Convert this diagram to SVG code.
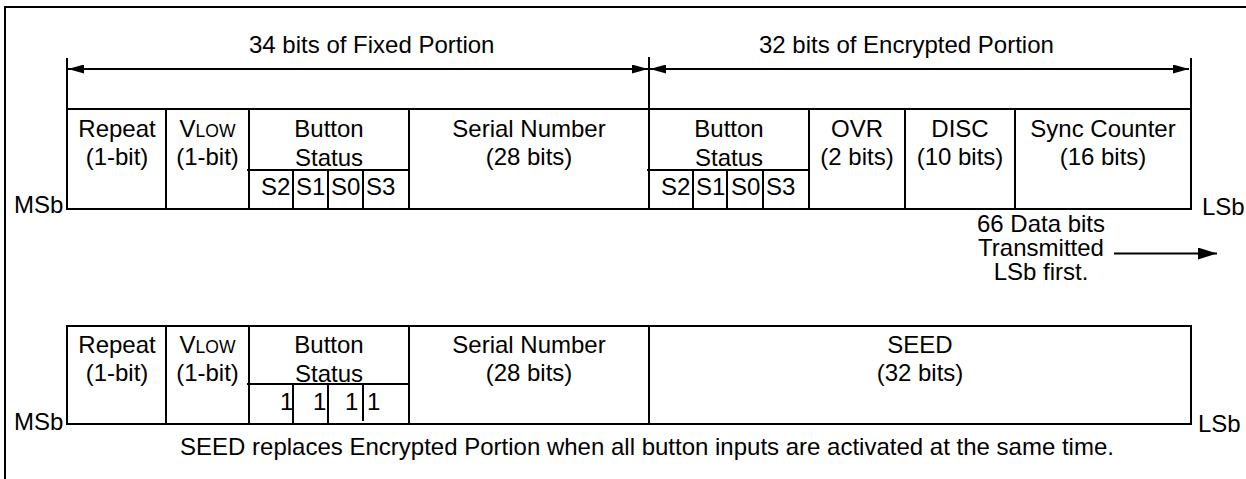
<svg xmlns="http://www.w3.org/2000/svg" width="1246" height="479" viewBox="0 0 1246 479">
<style>
text{font-family:"Liberation Sans",Arial,sans-serif;font-size:24px;fill:#000}
.c{text-anchor:middle}
.sc{font-size:17.5px}
.ln{stroke:#000;stroke-width:2;fill:none}
.box{stroke:#000;stroke-width:2;fill:#fff}
</style>
<defs>
<marker id="ah" markerUnits="userSpaceOnUse" markerWidth="16" markerHeight="9" refX="16" refY="4.5" orient="auto-start-reverse" viewBox="0 0 16 9">
<path d="M0,0 L16,4.5 L0,9 z" fill="#000"/>
</marker>
<marker id="ah2" markerUnits="userSpaceOnUse" markerWidth="19" markerHeight="12" refX="19" refY="6" orient="auto" viewBox="0 0 19 12">
<path d="M0,0 L19,6 L0,12 z" fill="#000"/>
</marker>
</defs>
<rect x="5" y="7" width="1260" height="490" fill="#fff" stroke="#000" stroke-width="2"/>

<g id="connectors">
<line class="ln" x1="67" y1="58" x2="67" y2="109"/>
<line class="ln" x1="649" y1="57" x2="649" y2="109"/>
<line class="ln" x1="1191" y1="58" x2="1191" y2="109"/>
<line class="ln" x1="68" y1="69" x2="648" y2="69" marker-start="url(#ah)" marker-end="url(#ah)"/>
<line class="ln" x1="650" y1="69" x2="1189" y2="69" marker-start="url(#ah)" marker-end="url(#ah)"/>
<line class="ln" x1="1114" y1="253.5" x2="1217" y2="253.5" marker-end="url(#ah2)"/>
</g>

<g id="labels">
<text x="249" y="53">34 bits of Fixed Portion</text>
<text x="759" y="53">32 bits of Encrypted Portion</text>
<text x="14" y="213">MSb</text>
<text x="1202" y="215">LSb</text>
<text class="c" x="1041" y="232">66 Data bits</text>
<text class="c" x="1041" y="256">Transmitted</text>
<text class="c" x="1041" y="280">LSb first.</text>
<text x="14" y="430">MSb</text>
<text x="1198" y="432">LSb</text>
<text class="c" x="647" y="455">SEED replaces Encrypted Portion when all button inputs are activated at the same time.</text>
</g>

<g id="row1">
<g id="r1-repeat"><rect class="box" x="67" y="109" width="99" height="100"/>
<text class="c" x="117" y="137">Repeat</text><text class="c" x="117" y="165">(1-bit)</text></g>
<g id="r1-vlow"><rect class="box" x="166" y="109" width="83" height="100"/>
<text class="c" x="207.5" y="137">V<tspan class="sc">LOW</tspan></text><text class="c" x="207.5" y="165">(1-bit)</text></g>
<g id="r1-button"><rect class="box" x="249" y="109" width="160" height="100"/>
<text class="c" x="329" y="137">Button</text><text class="c" x="329" y="166">Status</text>
<line class="ln" x1="247" y1="170" x2="409" y2="170"/>
<line class="ln" x1="293" y1="170" x2="293" y2="209"/>
<line class="ln" x1="328" y1="170" x2="328" y2="209"/>
<line class="ln" x1="363" y1="170" x2="363" y2="209"/>
<text x="261" y="195">S2</text><text x="296" y="195">S1</text><text x="331" y="195">S0</text><text x="366" y="195">S3</text></g>
<g id="r1-serial"><rect class="box" x="409" y="109" width="240" height="100"/>
<text class="c" x="529" y="137">Serial Number</text><text class="c" x="529" y="165">(28 bits)</text></g>
<g id="r1-button2"><rect class="box" x="649" y="109" width="160" height="100"/>
<text class="c" x="729" y="137">Button</text><text class="c" x="729" y="166">Status</text>
<line class="ln" x1="647" y1="170" x2="809" y2="170"/>
<line class="ln" x1="693" y1="170" x2="693" y2="209"/>
<line class="ln" x1="727" y1="170" x2="727" y2="209"/>
<line class="ln" x1="763" y1="170" x2="763" y2="209"/>
<text x="661" y="195">S2</text><text x="696" y="195">S1</text><text x="731" y="195">S0</text><text x="766" y="195">S3</text></g>
<g id="r1-ovr"><rect class="box" x="809" y="109" width="96" height="100"/>
<text class="c" x="857" y="137">OVR</text><text class="c" x="857" y="165">(2 bits)</text></g>
<g id="r1-disc"><rect class="box" x="905" y="109" width="110" height="100"/>
<text class="c" x="960" y="137">DISC</text><text class="c" x="960" y="165">(10 bits)</text></g>
<g id="r1-sync"><rect class="box" x="1015" y="109" width="176" height="100"/>
<text class="c" x="1103" y="137">Sync Counter</text><text class="c" x="1103" y="165">(16 bits)</text></g>
</g>

<g id="row2">
<g id="r2-repeat"><rect class="box" x="67" y="326" width="99" height="98"/>
<text class="c" x="117" y="353">Repeat</text><text class="c" x="117" y="381">(1-bit)</text></g>
<g id="r2-vlow"><rect class="box" x="166" y="326" width="83" height="98"/>
<text class="c" x="207.5" y="353">V<tspan class="sc">LOW</tspan></text><text class="c" x="207.5" y="381">(1-bit)</text></g>
<g id="r2-button"><rect class="box" x="249" y="326" width="160" height="98"/>
<text class="c" x="329" y="353">Button</text><text class="c" x="329" y="382">Status</text>
<line class="ln" x1="247" y1="384" x2="409" y2="384"/>
<line class="ln" x1="293" y1="384" x2="293" y2="424"/>
<line class="ln" x1="328" y1="384" x2="328" y2="424"/>
<line class="ln" x1="363" y1="384" x2="363" y2="421"/>
<text x="280" y="410">1</text><text x="313" y="410">1</text><text x="345" y="410">1</text><text x="367" y="410">1</text></g>
<g id="r2-serial"><rect class="box" x="409" y="326" width="240" height="98"/>
<text class="c" x="529" y="353">Serial Number</text><text class="c" x="529" y="381">(28 bits)</text></g>
<g id="r2-seed"><rect class="box" x="649" y="326" width="542" height="98"/>
<text class="c" x="920" y="353">SEED</text><text class="c" x="920" y="381">(32 bits)</text></g>
</g>
</svg>
